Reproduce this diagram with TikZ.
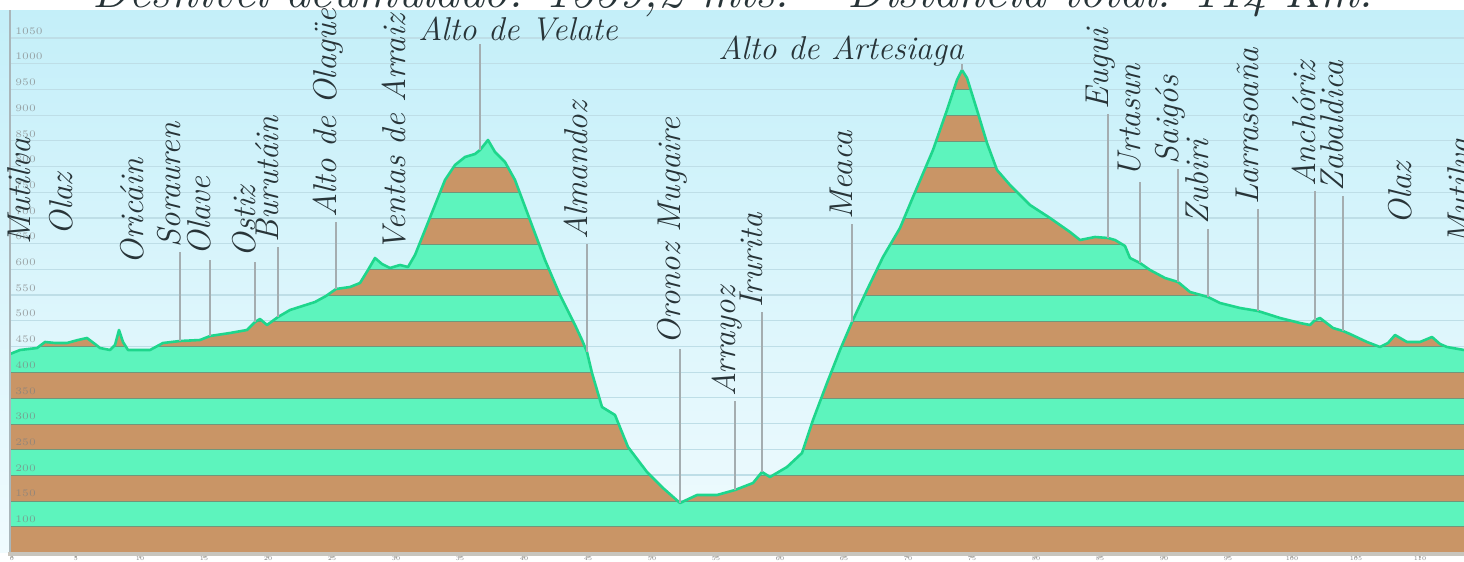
\documentclass[tikz,border=0pt]{standalone}
\usepackage{tikz}
\usetikzlibrary{calc}
\usepackage{xcolor}

\definecolor{skytop}{RGB}{196,239,249}
\definecolor{skybot}{RGB}{240,251,254}
\definecolor{skygrid}{RGB}{190,222,231}
\definecolor{bandgreen}{RGB}{93,244,189}
\definecolor{bandbrown}{RGB}{201,149,102}
\definecolor{bandline}{RGB}{112,150,122}
\definecolor{edgegreen}{RGB}{30,214,140}
\definecolor{leadgrey}{RGB}{164,173,176}
\definecolor{inkgrey}{RGB}{40,52,56}
\definecolor{framegrey}{RGB}{170,182,186}
\definecolor{axisgrey}{RGB}{200,197,189}

\newcommand\placefont{\fontsize{16.5}{17}\selectfont\itshape}
\newcommand\titlefont{\fontsize{24.5}{26}\selectfont\itshape}
\newcommand\scalefont{\fontsize{5}{5}\selectfont}
\newcommand\kmfont{\fontsize{3}{3}\selectfont}
% perfil de la ruta
\newcommand\ruta{plot coordinates {(10,354) (20,350) (37,348) (45,342) (55,343) (67,343) (78,340) (87,338) (95,344) (100,348) (110,350) (115,345) (119,330) (123,342) (128,350) (150,350) (163,343) (180,341) (200,340) (210,336) (230,333) (247,330) (255,322) (260,319) (267,325) (278,317) (290,310) (315,302) (326,296) (336,289) (350,287) (360,283) (368,270) (375,258) (382,264) (390,268) (400,265) (408,267) (415,255) (425,230) (435,205) (445,180) (455,165) (465,157) (475,154) (480,150) (488,140) (495,152) (505,162) (515,180) (530,220) (545,260) (560,295) (575,325) (582,340) (587,352) (592,373) (602,407) (615,415) (628,447) (647,472) (663,488) (680,503) (697,495) (717,495) (735,490) (753,483) (762,472) (770,477) (787,467) (802,453) (813,420) (827,383) (840,350) (852,322) (867,290) (883,257) (900,228) (913,197) (933,150) (947,110) (957,80) (962,70) (967,78) (977,110) (987,143) (997,170) (1010,185) (1030,205) (1050,218) (1070,232) (1080,240) (1095,237) (1108,238) (1115,240) (1125,246) (1130,258) (1140,263) (1150,270) (1165,278) (1178,282) (1190,292) (1208,297) (1220,303) (1240,308) (1258,311) (1280,318) (1300,323) (1310,325) (1315,320) (1320,318) (1333,328) (1343,331) (1350,334) (1367,342) (1380,347) (1388,343) (1395,335) (1407,342) (1420,342) (1432,337) (1440,344) (1447,347) (1464,350)}}

\begin{document}
\begin{tikzpicture}[x=0.5pt,y=-0.5pt,
    ort/.style={rotate=90,anchor=base west,inner sep=0pt,font=\placefont,text=inkgrey},
    hort/.style={anchor=base west,inner sep=0pt,font=\placefont,text=inkgrey},
    kopf/.style={anchor=base,inner sep=0pt,font=\titlefont,text=inkgrey},
    leader/.style={draw=leadgrey,line width=1pt,shorten <=2pt},
    kante/.style={draw=edgegreen,line width=1.3pt,line join=round},
    ylab/.style={anchor=west,inner sep=0pt,font=\scalefont,text=gray,opacity=.7},
    xlab/.style={anchor=north,inner sep=0pt,font=\kmfont,text=gray}]
  \useasboundingbox (0,0) rectangle (1464,562);
  \fill[white] (0,0) rectangle (1464,562);
  \shade[top color=skytop,bottom color=skybot] (0,10) rectangle (1464,552);
  % rejilla
  \foreach \k in {1,...,20}
    \draw[skygrid,line width=0.6pt] (10,552-25.7*\k) -- (1464,552-25.7*\k);
  % bandas de altitud
  \begin{scope}
    \clip \ruta -- (1464,552) -- (10,552) -- cycle;
    \foreach \k in {0,...,19}{
      \ifodd\k \def\bc{bandgreen}\else\def\bc{bandbrown}\fi
      \fill[\bc] (10,552-25.7*\k) rectangle (1464,552-25.7*\k-25.7);
      \draw[bandline,line width=1pt] (10,552-25.7*\k-25.7) -- (1464,552-25.7*\k-25.7);
    }
  \end{scope}
  \draw[kante] \ruta;
  \draw[framegrey,line width=1pt] (10,10) -- (10,552);
  \fill[axisgrey] (8,552) rectangle (1464,556);
  \foreach \k in {1,...,20}{
    \pgfmathtruncatemacro\alt{50+50*\k}
    \node[ylab] at (15,552-25.7*\k-7) {\alt};
  }
  \foreach \j in {0,...,22}{
    \pgfmathtruncatemacro\km{5*\j}
    \draw[axisgrey,line width=0.8pt] (12+64*\j,556) -- (12+64*\j,558);
    \node[xlab] at (12+64*\j,556.5) {\km};
  }
  % titulo
  \node[kopf] (kopfA) at (441,7) {Desnivel acumulado: 1559,2 mts.};
  \node[kopf] (kopfB) at (1110,7) {Distancia total: 114 Km.};
  % puntos del perfil
  \coordinate (pSorauren) at (180,341);
  \coordinate (pOlave) at (210,336);
  \coordinate (pOstiz) at (255,322);
  \coordinate (pBurutain) at (278,317);
  \coordinate (pOlague) at (336,289);
  \coordinate (pVelate) at (480,150);
  \coordinate (pAlmandoz) at (587,352);
  \coordinate (pOronoz) at (680,503);
  \coordinate (pArrayoz) at (735,490);
  \coordinate (pIrurita) at (762,472);
  \coordinate (pMeaca) at (852,322);
  \coordinate (pArtesiaga) at (962,70);
  \coordinate (pEugui) at (1108,238);
  \coordinate (pUrtasun) at (1140,263);
  \coordinate (pSaigos) at (1178,282);
  \coordinate (pZubiri) at (1208,297);
  \coordinate (pLarrasoana) at (1258,311);
  \coordinate (pAnchoriz) at (1315,320);
  \coordinate (pZabaldica) at (1343,331);
  % nombres
  \node[ort] (oMutilvaA) at (31,245) {Mutilva};
  \node[ort] (oOlazA) at (72,236) {Olaz};
  \node[ort] (oOricain) at (143,265) {Oricáin};
  \node[ort] (oSorauren) at (180,248) {Sorauren};
  \node[ort] (oOlave) at (210,256) {Olave};
  \node[ort] (oOstiz) at (255,258) {Ostiz};
  \node[ort] (oBurutain) at (278,243) {Burutáin};
  \node[ort] (oOlague) at (336,218) {Alto de Olagüe};
  \node[ort] (oVentas) at (405,252) {Ventas de Arraiz};
  \node[hort] (oVelate) at (418,40) {Alto de Velate};
  \node[ort] (oAlmandoz) at (587,240) {Almandoz};
  \node[ort] (oOronoz) at (680,345) {Oronoz Mugaire};
  \node[ort] (oArrayoz) at (735,397) {Arrayoz};
  \node[ort] (oIrurita) at (762,308) {Irurita};
  \node[ort] (oMeaca) at (852,220) {Meaca};
  \node[hort] (oArtesiaga) at (718,60) {Alto de Artesiaga};
  \node[ort] (oEugui) at (1108,110) {Eugui};
  \node[ort] (oUrtasun) at (1140,178) {Urtasun};
  \node[ort] (oSaigos) at (1178,165) {Saigós};
  \node[ort] (oZubiri) at (1208,225) {Zubiri};
  \node[ort] (oLarrasoana) at (1258,205) {Larrasoaña};
  \node[ort] (oAnchoriz) at (1315,187) {Anchóriz};
  \node[ort] (oZabaldica) at (1343,192) {Zabaldica};
  \node[ort] (oOlazB) at (1411,225) {Olaz};
  \node[ort] (oMutilvaB) at (1470,245) {Mutilva};
  % lineas
  \draw[leader] (oSorauren.base west) -- (pSorauren);
  \draw[leader] (oOlave.base west) -- (pOlave);
  \draw[leader] (oOstiz.base west) -- (pOstiz);
  \draw[leader] (oBurutain.base west) -- (pBurutain);
  \draw[leader] (oOlague.base west) -- (pOlague);
  \draw[leader] (oVelate.base -| pVelate) -- (pVelate);
  \draw[leader] (oAlmandoz.base west) -- (pAlmandoz);
  \draw[leader] (oOronoz.base west) -- (pOronoz);
  \draw[leader] (oArrayoz.base west) -- (pArrayoz);
  \draw[leader] (oIrurita.base west) -- (pIrurita);
  \draw[leader] (oMeaca.base west) -- (pMeaca);
  \draw[leader] (oArtesiaga.base -| pArtesiaga) -- (pArtesiaga);
  \draw[leader] (oEugui.base west) -- (pEugui);
  \draw[leader] (oUrtasun.base west) -- (pUrtasun);
  \draw[leader] (oSaigos.base west) -- (pSaigos);
  \draw[leader] (oZubiri.base west) -- (pZubiri);
  \draw[leader] (oLarrasoana.base west) -- (pLarrasoana);
  \draw[leader] (oAnchoriz.base west) -- (pAnchoriz);
  \draw[leader] (oZabaldica.base west) -- (pZabaldica);
\end{tikzpicture}
\end{document}
